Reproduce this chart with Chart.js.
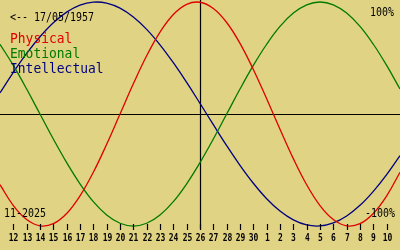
<!DOCTYPE html>
<html>
<head>
<meta charset="utf-8">
<script src="https://cdn.jsdelivr.net/npm/chart.js@4/dist/chart.umd.min.js"></script>
<style>
  html, body { margin: 0; padding: 0; background: #e0d384; }
  canvas { display: block; }
</style>
</head>
<body>
<canvas id="bio" width="400" height="250"></canvas>
<script>
// Biorhythm for someone born 17/05/1957, window 11 Nov 2025 .. 11 Dec 2025 (day index 0..30)
const birthText = '<-- 17/05/1957';
const monthText = '11-2025';
const todayIndex = 15; // 26 Nov
const dayLabels = ['12','13','14','15','16','17','18','19','20','21','22','23','24','25','26',
  '27','28','29','30','1','2','3','4','5','6','7','8','9','10'];

// values in % per day index 0..30
const physical = [-63.1, -81.7, -94.2, -99.8, -97.9, -88.8, -73.1, -52.0, -27.0, 0, 27.0, 52.0, 73.1, 88.8, 97.9,
  99.8, 94.2, 81.7, 63.1, 39.8, 13.6, -13.6, -39.8, -63.1, -81.7, -94.2, -99.8, -97.9, -88.8, -73.1, -52.0];
const emotional = [62.3, 43.4, 22.3, 0, -22.3, -43.4, -62.3, -78.2, -90.1, -97.5, -100, -97.5, -90.1, -78.2, -62.3,
  -43.4, -22.3, 0, 22.3, 43.4, 62.3, 78.2, 90.1, 97.5, 100, 97.5, 90.1, 78.2, 62.3, 43.4, 22.3];
const intellectual = [18.9, 37.2, 54.1, 69.0, 81.5, 91.0, 97.2, 99.9, 99.0, 94.5, 86.6, 75.6, 61.8, 45.8, 28.2,
  9.5, -9.5, -28.2, -45.8, -61.8, -75.6, -86.6, -94.5, -99.0, -99.9, -97.2, -91.0, -81.5, -69.0, -54.1, -37.2];

const seriesNames = ['Physical', 'Emotional', 'Intellectual'];
const seriesColors = ['#e00000', '#007a00', '#000080'];

const toPoints = arr => arr.map((v, i) => ({ x: i, y: v }));

// axes, ticks and the text overlay
const overlay = {
  id: 'overlay',
  beforeDatasetsDraw(chart) {
    const { ctx, scales: { x, y } } = chart;
    ctx.save();
    ctx.strokeStyle = '#000';
    ctx.lineWidth = 1.2;
    const y0 = Math.round(y.getPixelForValue(0)) + 0.5;
    const xt = Math.round(x.getPixelForValue(todayIndex)) + 0.5;
    ctx.beginPath();
    ctx.moveTo(0, y0); ctx.lineTo(400, y0);
    ctx.moveTo(xt, 0); ctx.lineTo(xt, 229);
    ctx.stroke();
    ctx.restore();
  },
  afterDraw(chart) {
    const { ctx, scales: { x } } = chart;
    ctx.save();
    ctx.strokeStyle = '#000';
    ctx.fillStyle = '#000';
    ctx.lineWidth = 1.2;
    ctx.textBaseline = 'alphabetic';
    dayLabels.forEach((lbl, i) => {
      const px = Math.round(x.getPixelForValue(i + 1)) + 0.5;
      ctx.beginPath();
      ctx.moveTo(px, 224); ctx.lineTo(px, 230);
      ctx.stroke();
      ctx.font = 'bold 10px "DejaVu Sans Mono"';
      ctx.textAlign = 'center';
      ctx.fillText(lbl, px, 241, lbl.length * 4.8);
    });

    ctx.textAlign = 'left';
    ctx.font = '13px "DejaVu Sans Mono"';
    ctx.fillText(birthText, 10, 21, birthText.length * 6);
    ctx.font = '12px "DejaVu Sans Mono"';
    ctx.fillText(monthText, 4, 217, monthText.length * 6);
    ctx.textAlign = 'right';
    ctx.fillText('100%', 394, 16, 24);
    ctx.fillText('-100%', 395, 217, 30);

    ctx.textAlign = 'left';
    ctx.font = '14px "DejaVu Sans Mono"';
    seriesNames.forEach((name, i) => {
      ctx.fillStyle = seriesColors[i];
      ctx.fillText(name, 10, 43 + i * 15, name.length * 7.8);
    });
    ctx.restore();
  }
};

new Chart(document.getElementById('bio'), {
  type: 'line',
  data: {
    datasets: [physical, emotional, intellectual].map((arr, i) => ({
      label: seriesNames[i],
      data: toPoints(arr),
      borderColor: seriesColors[i],
      borderWidth: 1.3,
      pointRadius: 0,
      fill: false,
      tension: 0.4
    }))
  },
  options: {
    responsive: false,
    animation: false,
    layout: { padding: 0 },
    scales: {
      x: { type: 'linear', min: 0, max: 30, display: false },
      y: { min: -121.4, max: 101.8, display: false }
    },
    plugins: { legend: { display: false }, tooltip: { enabled: false } }
  },
  plugins: [overlay]
});
</script>
</body>
</html>
